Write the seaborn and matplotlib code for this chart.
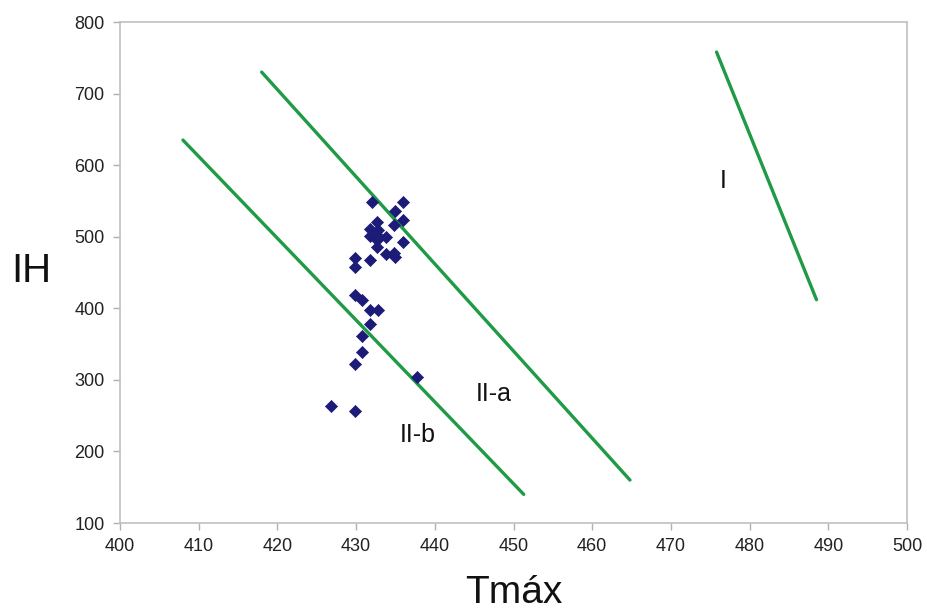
import matplotlib
matplotlib.use("Agg")
import matplotlib.pyplot as plt
import seaborn as sns
import pandas as pd

# Sample data (Tmax, IH)
tmax = [432, 436, 435, 436, 434.8, 432.7, 431.8, 432.8, 431.8, 432.7, 433.8, 432.7,
        436, 432.7, 433.8, 434.8, 435, 429.9, 431.8, 429.9, 429.9, 430.8, 431.8,
        432.8, 431.8, 430.8, 430.8, 429.9, 437.7, 426.8, 429.9]
ih = [549, 549, 536, 523, 516, 521, 511, 510, 501, 503, 499, 496,
      493, 486, 476, 477, 472, 470, 467, 458, 418, 412, 397,
      397, 378, 361, 339, 322, 304, 264, 257]

# Boundary lines
line_names = ["II-b", "II-b", "II-a", "II-a", "I", "I"]
line_x = [408, 451.3, 418, 464.8, 475.8, 488.5]
line_y = [635, 140, 730, 160, 758, 412]

# Zone labels
zone_labels = ["I", "II-a", "II-b"]
zone_x = [476.7, 447.5, 437.8]
zone_y = [578, 280, 223]

sns.set_theme(style="white")
plt.rcParams['font.family'] = ['Liberation Sans', 'DejaVu Sans']

fig = plt.figure(figsize=(9.28, 6.15), dpi=100)
ax = fig.add_axes([120/928, 1-523/615, 787/928, 501/615])

lines_df = pd.DataFrame({"name": line_names, "x": line_x, "y": line_y})
for nm in ["II-b", "II-a", "I"]:
    sub = lines_df[lines_df["name"] == nm]
    sns.lineplot(data=sub, x="x", y="y", ax=ax, color="#1f9a45", linewidth=2.4,
                 estimator=None, sort=False, legend=False)

pts = pd.DataFrame({"Tmax": tmax, "IH": ih})
sns.scatterplot(data=pts, x="Tmax", y="IH", ax=ax, marker="D", s=38,
                color="#1c1c78", edgecolor="#1c1c78", linewidth=0.5, zorder=3)

for t, x, y in zip(zone_labels, zone_x, zone_y):
    ax.text(x, y, t, fontsize=18, ha="center", va="center", color="#111111")

ax.set_xlim(400, 500)
ax.set_ylim(100, 800)
ax.set_xticks(range(400, 501, 10))
ax.set_yticks(range(100, 801, 100))
ax.tick_params(axis="both", which="both", direction="out", length=5, width=1,
               color="#b0b0b0", labelsize=13, labelcolor="#222222", pad=6,
               bottom=True, left=True)
for s in ax.spines.values():
    s.set_color("#c0c0c0")
    s.set_linewidth(1.2)

ax.set_xlabel("Tmáx", fontsize=28, color="#111111")
ax.xaxis.set_label_coords(0.5, -0.14)
ax.xaxis.label.set_va("center")
ax.set_ylabel("IH", fontsize=29, color="#111111", rotation=0)
ax.yaxis.set_label_coords(-0.113, 0.502)
ax.yaxis.label.set_va("center")
ax.yaxis.label.set_ha("center")

fig.savefig("out.png", dpi=100)
